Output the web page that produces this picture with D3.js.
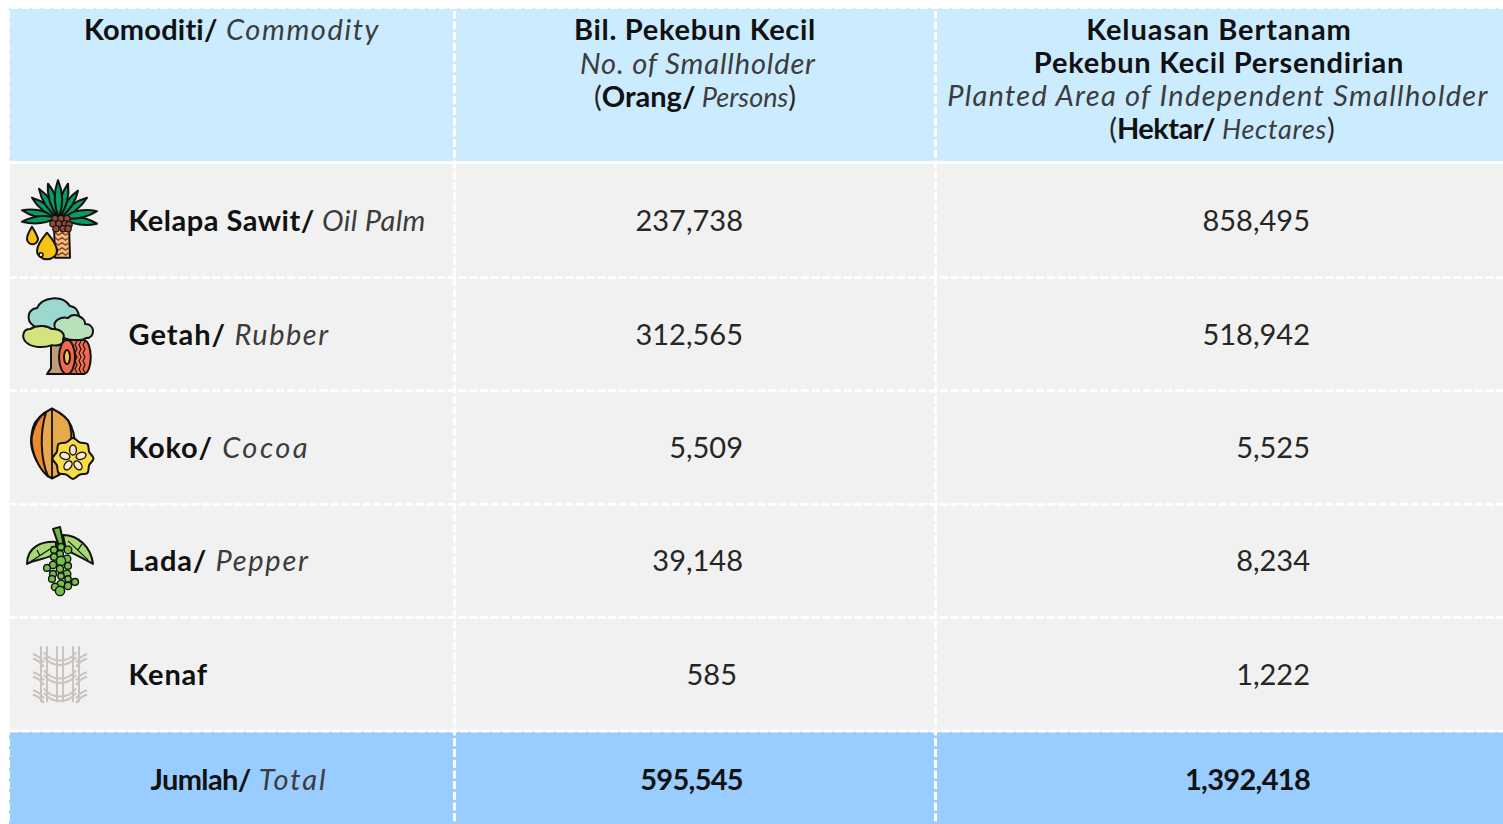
<!DOCTYPE html>
<html>
<head>
<meta charset="utf-8">
<script src="https://cdn.jsdelivr.net/npm/d3@7"></script>
<style>
  html, body { margin: 0; background: #fff; }
  svg { display: block; }
  text { font-family: Lato, "Open Sans", sans-serif; fill: #262626; }
  .b { font-weight: 700; fill: #111; }
  .i { font-style: italic; font-weight: 400; fill: #3c3c3c; }
</style>
</head>
<body>
<svg id="chart" width="1503" height="824"></svg>
<script>
const commodities = ['Kelapa Sawit', 'Getah', 'Koko', 'Lada', 'Kenaf'];
const commoditiesEn = ['Oil Palm', 'Rubber', 'Cocoa', 'Pepper', ''];
const smallholders = [237738, 312565, 5509, 39148, 585];
const plantedArea = [858495, 518942, 5525, 8234, 1222];

// letter spacing to stretch Lato out to the wider look of the original face
const nameSpacing = [0.5, 1, 0.8, 0.8, 0.8];
const enSpacing = [0.4, 1.5, 2.5, 1.7, 0];

const fmt = d3.format(',');
const svg = d3.select('#chart');

const colX = d3.scaleOrdinal().domain(['name', 'count', 'area']).range([9, 454.5, 935.5]);
const rightEdge = 1503;
const y = d3.scaleBand().domain(commodities).range([164, 731]);
const valueX = { count: 743, area: 1310 };

// backgrounds
svg.append('rect').attr('x', 9).attr('y', 8).attr('width', rightEdge - 9).attr('height', 153).attr('fill', '#cbebff');
svg.append('rect').attr('x', 9).attr('y', 164).attr('width', rightEdge - 9).attr('height', 567).attr('fill', '#f1f1f1');
svg.append('rect').attr('x', 9).attr('y', 732).attr('width', rightEdge - 9).attr('height', 92).attr('fill', '#99ccff');

// dashed white grid
const dash = (x1, y1, x2, y2, w) => svg.append('line')
  .attr('x1', x1).attr('y1', y1).attr('x2', x2).attr('y2', y2)
  .attr('stroke', '#fff').attr('stroke-width', w).attr('stroke-dasharray', '8 2.7');
dash(0, 8, rightEdge, 8, 2);
commodities.slice(1).forEach(c => dash(9, y(c), rightEdge, y(c), 3));
dash(0, 731, rightEdge, 731, 3);
dash(9, 0, 9, 824, 2);
[colX('count'), colX('area')].forEach(x => dash(x, 0, x, 824, 3));
dash(9, 162.5, rightEdge, 162.5, 3).attr('stroke-dasharray', null);

// mixed bold/italic label; parts are [text, class, size, spacing]
function label(x, yy, anchor, parts, size) {
  const t = svg.append('text').attr('x', x).attr('y', yy).attr('text-anchor', anchor)
    .attr('font-size', size);
  parts.forEach(p => t.append('tspan').attr('class', p[1] || null)
    .attr('font-size', p[2] || null).attr('letter-spacing', p[3] || null).text(p[0]));
  return t;
}

// header
label(232, 40, 'middle', [['Komoditi/', 'b', null, 0.2], [' Commodity', 'i', null, 1.6]], 29);
label(695, 40, 'middle', [['Bil. Pekebun Kecil', 'b', null, 0.7]], 29);
label(698, 74, 'middle', [['No. of Smallholder', 'i', null, 0.85]], 29);
label(695, 107, 'middle', [['('], ['Orang/', 'b'], [' Persons', 'i', 27], [')']], 29);
label(1219, 40, 'middle', [['Keluasan Bertanam', 'b', null, 0.95]], 29);
label(1219, 73, 'middle', [['Pekebun Kecil Persendirian', 'b', null, 0.77]], 29);
label(1218, 106, 'middle', [['Planted Area of Independent Smallholder', 'i', null, 1.3]], 29);
label(1222, 139, 'middle', [['('], ['Hektar/', 'b', null, -0.5], [' Hectares', 'i', 27, 0.7], [')']], 29);

// rows
commodities.forEach((c, i) => {
  const cy = y(c) + y.bandwidth() / 2;
  const parts = [[c + (commoditiesEn[i] ? '/' : ''), 'b', null, nameSpacing[i]]];
  if (commoditiesEn[i]) parts.push([' ' + commoditiesEn[i], 'i', null, enSpacing[i]]);
  label(128.5, cy + 10.5, 'start', parts, 29);
  label(valueX.count - (smallholders[i] === 585 ? 6 : 0), cy + 10.5, 'end', [[fmt(smallholders[i])]], 29);
  label(valueX.area, cy + 10.5, 'end', [[fmt(plantedArea[i])]], 29);
});

// total row
label(239, 790, 'middle', [['Jumlah/', 'b', null, -0.6], [' Total', 'i', null, 2]], 29);
label(valueX.count, 790, 'end', [[fmt(d3.sum(smallholders)), 'b', null, -0.7]], 29);
label(valueX.area, 790, 'end', [[fmt(d3.sum(plantedArea)), 'b', null, -0.7]], 29);

// icons, drawn around their own centre
const ink = '#111';
function icon(name) {
  return svg.append('g').attr('transform', `translate(60,${y(name) + y.bandwidth() / 2})`)
    .attr('stroke', ink).attr('stroke-width', 2).attr('stroke-linejoin', 'round');
}
function blob(g, d, fill) { return g.append('path').attr('d', d).attr('fill', fill); }

// oil palm
(function () {
  const g = icon('Kelapa Sawit');
  blob(g, 'M-6,4 L-5,37 L10,37 L9,4Z', '#f6bd86');
  d3.range(5).forEach(i => g.append('path')
    .attr('d', `M-5,${12 + i * 5} l3.5,2.5 l3.5,-2.5 l3.5,2.5 l3.5,-2.5`)
    .attr('fill', 'none').attr('stroke', '#8a4a1e').attr('stroke-width', 1.5));
  [[-38, -10.5], [-38, 1], [37, 3], [-28, -23], [-21, -32], [37, -9.5], [27, -23], [18, -30], [-12, -37], [8, -37], [-2, -40.5]]
    .forEach(t => {
      const bx = t[0] * 0.05 - 1, by = -3;
      const mx = (bx + t[0]) / 2, my = (by + t[1]) / 2;
      const nx = (t[1] - by) * 0.2, ny = -(t[0] - bx) * 0.2;
      blob(g, `M${bx},${by} Q${mx + nx},${my + ny} ${t[0]},${t[1]} Q${mx - nx},${my - ny} ${bx},${by}Z`, '#0b9a63');
    });
  [[-5, -2], [1, -2], [7, -2], [-7, 3], [-1, 3], [5, 3], [9, 4], [-4, 8], [3, 8], [8, 8]].forEach(p => g.append('circle')
    .attr('cx', p[0]).attr('cy', p[1]).attr('r', 3.2).attr('fill', '#8f4a3a').attr('stroke-width', 1.2));
  blob(g, 'M-28,6 Q-33,14 -33,18 A5.5,5.5 0 0 0 -22,18 Q-23,14 -28,6Z', '#f7c30f');
  blob(g, 'M-13,12 Q-23,24 -23,30 A10,8.5 0 0 0 -3,30 Q-3,24 -13,12Z', '#f7c30f');
  g.append('circle').attr('cx', -19).attr('cy', 34).attr('r', 2).attr('fill', '#fff').attr('stroke-width', 1.5);
})();

// rubber
(function () {
  const g = icon('Getah');
  blob(g, 'M-9,6 L-9,34 L-13,40 L14,40 L14,6Z', '#c59a7c');
  blob(g, 'M-26,-8 C-35,-14 -32,-25 -23,-26 C-18,-37 2,-40 10,-28 C18,-27 22,-17 16,-10 L-6,0 L-20,-4Z', '#9bd8cf');
  blob(g, 'M-5,-6 C-8,-14 2,-18 8,-16 C14,-23 26,-16 25,-10 C35,-11 36,4 26,4 C20,8 5,6 0,1 C-4,1 -6,-3 -5,-6Z', '#b7e0bb');
  blob(g, 'M-34,8 C-39,3 -37,-5 -30,-5 C-22,-10 -12,-8 -8,-5 C0,-6 6,0 3,5 C5,11 -4,12 -8,11 C-16,14 -28,14 -34,8Z', '#d3e37d');
  blob(g, 'M7,6 L24,6 C33,8 33,38 24,40 L7,40Z', '#ef6a4c');
  d3.range(3).forEach(i => g.append('path')
    .attr('d', `M${17 + i * 4},7 l-2,4 l2,4 l-2,4 l2,4 l-2,4 l2,4 l-2,4 l2,4`)
    .attr('fill', 'none').attr('stroke-width', 1.1));
  g.append('ellipse').attr('cx', 7).attr('cy', 23).attr('rx', 8).attr('ry', 17).attr('fill', '#ef6a4c');
  g.append('ellipse').attr('cx', 7).attr('cy', 23).attr('rx', 3).attr('ry', 7).attr('fill', '#f9c64f');
})();

// cocoa
(function () {
  const g = icon('Koko');
  blob(g, 'M-8,-39 C-14,-36 -24,-30 -27,-20 C-30,-8 -30,0 -24,12 C-20,20 -14,28 -8,31 C0,28 8,22 13,10 C16,0 16,-10 11,-22 C8,-30 -2,-36 -8,-39Z', '#e8a84c');
  blob(g, 'M-14,-35 C-24,-30 -30,-12 -28,-2 C-26,12 -18,24 -12,29 C-20,10 -20,-16 -14,-35Z', '#ee8a2c');
  g.append('path').attr('d', 'M-8,-39 L-8,31 M8,-28 C12,-18 12,-6 10,4').attr('fill', 'none').attr('stroke-width', 1.8);
  const scallop = d3.lineRadial().curve(d3.curveCardinalClosed)
    .angle((d, i) => i * Math.PI / 8).radius((d, i) => (i % 2 ? 17.5 : 20.5));
  g.append('path').attr('transform', 'translate(13,11)').attr('d', scallop(d3.range(16))).attr('fill', '#f8dc45');
  d3.range(5).forEach(i => {
    const a = i * 72 - 90;
    g.append('ellipse').attr('transform', `translate(13,11) rotate(${a}) translate(8.5,0)`)
      .attr('rx', 5).attr('ry', 3.4).attr('fill', '#fbe9cf').attr('stroke-width', 1.4);
  });
})();

// pepper
(function () {
  const g = icon('Lada');
  blob(g, 'M-4,-19 C-18,-20 -33,-14 -33,3 C-24,-2 -10,-2 -4,-8Z', '#a9d873');
  blob(g, 'M3,-26 C18,-26 31,-14 33,3 C24,-2 12,-8 6,-11Z', '#a9d873');
  g.append('path').attr('d', 'M-30,1 L-10,-12 M-20,-5 L-23,-11 M8,-20 L28,-1 M18,-11 L22,-17')
    .attr('fill', 'none').attr('stroke-width', 1.2);
  blob(g, 'M-7,-32 L0,-34 L4,-15 L-1,-15Z', '#6fb544');
  [[1, -14, 3.4], [-6, -11, 3.4], [8, -11, 3.8], [0, -7, 3.4], [-6, -4, 3.4], [7, -2, 3.8], [1, 0, 4.6], [-7, 4, 3.6], [-13, 7, 3.4],
    [8, 5, 3.4], [0, 8, 3.6], [-7, 13, 3.4], [7, 13, 3.8], [1, 15, 3.2], [-8, 18, 3.4], [8, 18, 3.2], [15, 21, 3.4], [1, 23, 3.8],
    [-5, 26, 3.6], [8, 25, 3.6], [0, 30, 4.6]].forEach(p => g.append('circle')
    .attr('cx', p[0]).attr('cy', p[1]).attr('r', p[2]).attr('fill', '#74c048').attr('stroke-width', 1.4));
})();

// kenaf weave
(function () {
  const g = icon('Kenaf').attr('stroke', '#c9c5be').attr('stroke-width', 2).attr('fill', 'none');
  [-16, 0, 16].forEach(x => [-3, 3].forEach(o => g.append('line')
    .attr('x1', x + o).attr('x2', x + o).attr('y1', -28).attr('y2', 28)));
  [-20, -2, 16].forEach(r => [0, 4.5].forEach(o => {
    const v = r + o;
    g.append('path').attr('d', `M-27,${v} C-22,${v + 1} -19,${v + 4} -16,${v + 8}`);
    g.append('path').attr('d', `M27,${v} C22,${v + 1} 19,${v + 4} 16,${v + 8}`);
    g.append('path').attr('d', `M-16,${v - 2} C-8,${v + 9} 8,${v + 9} 16,${v - 2}`);
  }));
})();
</script>
</body>
</html>
